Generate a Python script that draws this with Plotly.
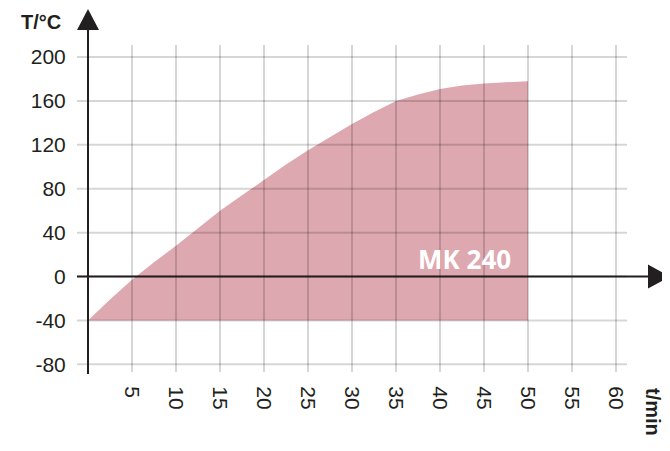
import plotly.graph_objects as go

# heating curve, MK 240 chamber
t_min = [0, 2.5, 5, 7.5, 10, 12.5, 15, 17.5, 20, 22.5, 25, 27.5,
         30, 32.5, 35, 37.5, 40, 42.5, 45, 47.5, 50]
temp_c = [-40, -21, -3, 13, 28, 44, 60, 74, 88, 102, 115, 127,
          139, 150, 160, 166, 171, 174, 176, 177, 178]
floor_c = -40
label = "MK 240"

x_ticks = [0, 5, 10, 15, 20, 25, 30, 35, 40, 45, 50, 55, 60]
x_ticktext = ["", "5", "10", "15", "20", "25", "30", "35", "40", "45", "50", "55", "60"]
y_ticks = [-80, -40, 0, 40, 80, 120, 160, 200]
y_ticktext = ["-80", "-40", "0", "40", "80", "120", "160", "200"]

X_RANGE = [-1.25, 61.25]
Y_RANGE = [-87, 211]

# page body has an 8px margin, so the figure is shrunk and shifted by that
OFF = 8
W, H = 670 - OFF, 451 - OFF
M = dict(l=77 - OFF, r=43, t=45 - OFF, b=79)
PW = W - M["l"] - M["r"]
PH = H - M["t"] - M["b"]

INK = "#231f20"
FILL = "#dea8b0"
GRID = "rgba(0,0,0,0.16)"
FONT = "Liberation Sans, Arial, sans-serif"


def px_x(p):
    # p is a pixel position in the 670x451 window
    return (p - OFF - M["l"]) / PW


def px_y(p):
    return (H - M["b"] - (p - OFF)) / PH


def yp(v):
    return (v - Y_RANGE[0]) / (Y_RANGE[1] - Y_RANGE[0])


fig = go.Figure()
fig.add_trace(go.Scatter(x=t_min, y=[floor_c] * len(t_min), mode="lines",
                         line=dict(width=0), hoverinfo="skip", showlegend=False))
fig.add_trace(go.Scatter(x=t_min, y=temp_c, mode="lines", fill="tonexty",
                         fillcolor=FILL, line=dict(width=0, color=FILL),
                         showlegend=False))

shapes = []
# grid drawn above the fill so it darkens inside the area
for v in x_ticks:
    shapes.append(dict(type="line", xref="x", yref="paper", x0=v, x1=v, y0=0, y1=1,
                       line=dict(color=GRID, width=2), layer="above"))
for v in y_ticks:
    shapes.append(dict(type="line", xref="paper", yref="y", x0=0, x1=1, y0=v, y1=v,
                       line=dict(color=GRID, width=2), layer="above"))

# axes with arrows
x0p = px_x(88)
shapes.append(dict(type="line", xref="paper", yref="paper", x0=x0p, x1=x0p,
                   y0=px_y(374), y1=px_y(29), line=dict(color=INK, width=2), layer="above"))
shapes.append(dict(type="line", xref="paper", yref="paper", x0=0, x1=px_x(649),
                   y0=yp(0), y1=yp(0), line=dict(color=INK, width=2), layer="above"))
shapes.append(dict(type="path", xref="paper", yref="paper", xsizemode="pixel", ysizemode="pixel",
                   xanchor=x0p, yanchor=px_y(30), path="M-11,0 L11,0 L0,21 Z",
                   fillcolor=INK, line=dict(width=0), layer="above"))
shapes.append(dict(type="path", xref="paper", yref="paper", xsizemode="pixel", ysizemode="pixel",
                   xanchor=px_x(648), yanchor=yp(0), path="M0,-12 L22,0 L0,12 Z",
                   fillcolor=INK, line=dict(width=0), layer="above"))

fig.update_layout(
    width=W, height=H,
    margin=M,
    plot_bgcolor="white", paper_bgcolor="white",
    font=dict(family=FONT, size=21, color=INK),
    shapes=shapes,
    showlegend=False,
    annotations=[
        dict(text="<b>T/°C</b>", xref="paper", yref="paper", x=px_x(41), y=px_y(9),
             xanchor="center", yanchor="top", showarrow=False,
             font=dict(family=FONT, size=20, color=INK)),
        dict(text="<b>t/min</b>", xref="paper", yref="paper", x=px_x(653), y=px_y(412),
             xanchor="center", yanchor="middle", textangle=90, showarrow=False,
             font=dict(family=FONT, size=20, color=INK)),
        dict(text="<b>" + label + "</b>", xref="x", yref="y", x=42.8, y=16,
             xanchor="center", yanchor="middle", showarrow=False,
             font=dict(family="Open Sans, sans-serif", size=26, color="white")),
    ],
)
fig.update_xaxes(range=X_RANGE, tickvals=x_ticks, ticktext=x_ticktext, tickangle=90,
                 showgrid=False, zeroline=False, showline=False, automargin=False,
                 ticks="outside", ticklen=9, tickcolor="rgba(0,0,0,0)")
fig.update_yaxes(range=Y_RANGE, tickvals=y_ticks, ticktext=y_ticktext, showgrid=False,
                 zeroline=False, showline=False, automargin=False,
                 ticks="outside", ticklen=6, tickcolor="rgba(0,0,0,0)")

fig.write_html("out.html")
